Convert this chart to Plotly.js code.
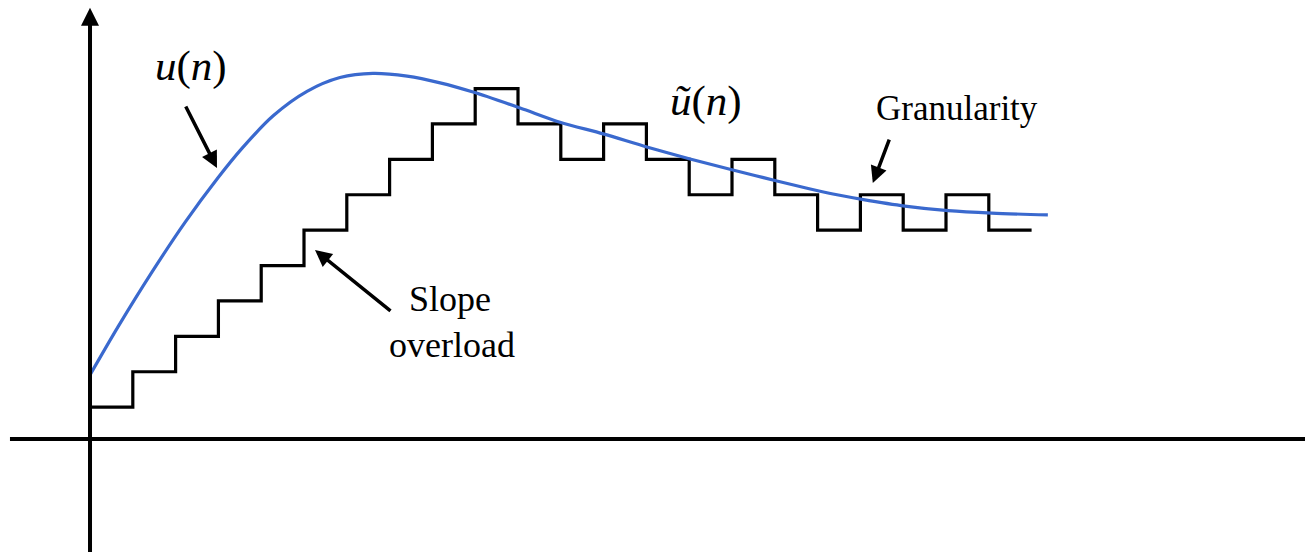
<!DOCTYPE html>
<html>
<head>
<meta charset="utf-8">
<script src="https://cdn.plot.ly/plotly-3.0.1.min.js"></script>
<style>
  html, body { margin: 0; padding: 0; background: #ffffff; }
  #chart { width: 1305px; height: 552px; }
</style>
</head>
<body>
<div id="chart"></div>
<script>
// Sample index n of the staircase (delta-modulation) approximation
const stepIndex = [0,1,2,3,4,5,6,7,8,9,10,11,12,13,14,15,16,17,18,19,20,21];
// Staircase approximation u~(n), in units of the step size
const stairLevels = [0.9,1.9,2.9,3.9,4.9,5.9,6.9,7.9,8.9,9.9,8.9,7.9,8.9,7.9,6.9,7.9,6.9,5.9,6.9,5.9,6.9,5.9];
// Original signal u(n)
const curveN = [0,0.65,1.45,2.22,2.99,3.55,4.28,5.07,5.84,6.61,7.41,8.18,8.95,10.05,10.98,11.99,13.01,14.02,15.02,16.05,17.36,18.04,19.04,20.05,21.07,22.38];
const curveU = [1.81,3.16,4.72,6.12,7.38,8.21,9.13,9.82,10.21,10.33,10.25,10.06,9.80,9.35,8.95,8.62,8.25,7.91,7.60,7.29,6.92,6.77,6.58,6.45,6.38,6.33];

// Staircase: each level holds for one sample period (extend last level to the end)
const stairX = stepIndex.concat([stepIndex[stepIndex.length-1] + 1]);
const stairY = stairLevels.concat([stairLevels[stairLevels.length-1]]);

const serif = 'Liberation Serif';

const traces = [
  {
    x: stairX, y: stairY, type: 'scatter', mode: 'lines',
    line: {shape: 'hv', color: '#000000', width: 3.2},
    hoverinfo: 'skip', showlegend: false
  },
  {
    x: curveN, y: curveU, type: 'scatter', mode: 'lines',
    line: {shape: 'spline', smoothing: 0.8, color: '#3a69ce', width: 3.2},
    hoverinfo: 'skip', showlegend: false
  }
];

const layout = {
  width: 1305, height: 552,
  margin: {l: 0, r: 0, t: 0, b: 0},
  paper_bgcolor: '#ffffff', plot_bgcolor: '#ffffff',
  showlegend: false,
  font: {family: serif},
  xaxis: {range: [-2.103, 28.388], visible: false, fixedrange: true},
  yaxis: {range: [-3.192, 12.401], visible: false, fixedrange: true},
  shapes: [
    {type: 'line', xref: 'x', yref: 'y', x0: -1.87, x1: 28.5, y0: 0, y1: 0,
     line: {color: '#000000', width: 4}}
  ],
  annotations: [
    // vertical axis with arrow
    {x: 0, y: 12.18, xref: 'x', yref: 'y', ax: 0, ay: -3.4, axref: 'x', ayref: 'y',
     text: '', showarrow: true, arrowhead: 2, arrowsize: 0.9, arrowwidth: 4, arrowcolor: '#000000'},
    // labels
    {x: 2.35, y: 10.55, xref: 'x', yref: 'y', text: '<i>u</i>(<i>n</i>)', showarrow: false,
     font: {family: serif, size: 43, color: '#000000'}, xanchor: 'center', yanchor: 'middle'},
    {x: 14.4, y: 9.55, xref: 'x', yref: 'y', text: '<i>ũ</i>(<i>n</i>)', showarrow: false,
     font: {family: serif, size: 43, color: '#000000'}, xanchor: 'center', yanchor: 'middle'},
    {x: 20.25, y: 9.35, xref: 'x', yref: 'y', text: 'Granularity', showarrow: false,
     font: {family: serif, size: 35, color: '#000000'}, xanchor: 'center', yanchor: 'middle'},
    {x: 8.4, y: 3.95, xref: 'x', yref: 'y', text: 'Slope', showarrow: false,
     font: {family: serif, size: 36, color: '#000000'}, xanchor: 'center', yanchor: 'middle'},
    {x: 8.45, y: 2.65, xref: 'x', yref: 'y', text: 'overload', showarrow: false,
     font: {family: serif, size: 36, color: '#000000'}, xanchor: 'center', yanchor: 'middle'},
    // pointer arrows
    {x: 2.967, y: 7.655, xref: 'x', yref: 'y', ax: -32, ay: -63,
     text: '', showarrow: true, arrowhead: 2, arrowsize: 0.95, arrowwidth: 3.5, arrowcolor: '#000000'},
    {x: 5.257, y: 5.339, xref: 'x', yref: 'y', ax: 77, ay: 62,
     text: '', showarrow: true, arrowhead: 2, arrowsize: 0.95, arrowwidth: 3.5, arrowcolor: '#000000'},
    {x: 18.29, y: 7.23, xref: 'x', yref: 'y', ax: 17, ay: -45,
     text: '', showarrow: true, arrowhead: 2, arrowsize: 0.95, arrowwidth: 3.5, arrowcolor: '#000000'}
  ]
};

Plotly.newPlot('chart', traces, layout, {staticPlot: true, displayModeBar: false});
</script>
</body>
</html>
